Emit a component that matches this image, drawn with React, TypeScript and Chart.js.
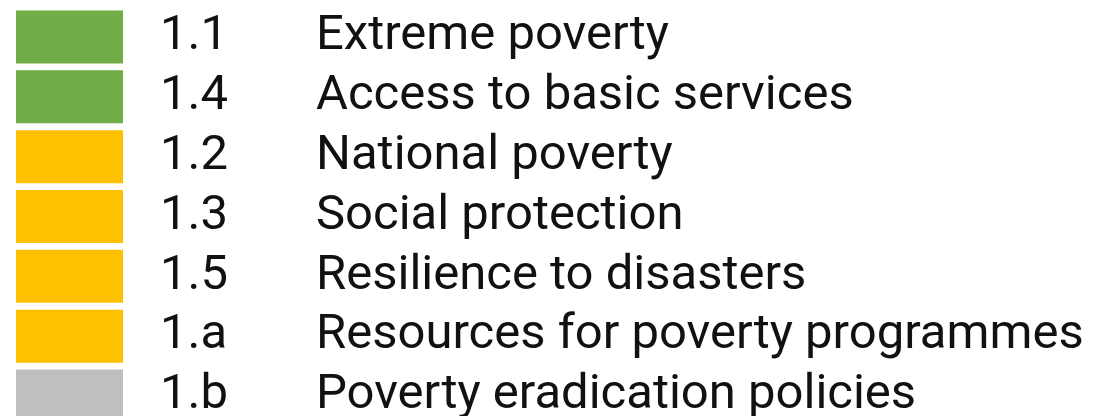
import React, { useEffect, useRef } from "react";
import { Chart, registerables } from "chart.js";

Chart.register(...registerables);

const codes = ["1.1", "1.4", "1.2", "1.3", "1.5", "1.a", "1.b"];
const names = [
  "Extreme poverty",
  "Access to basic services",
  "National poverty",
  "Social protection",
  "Resilience to disasters",
  "Resources for poverty programmes",
  "Poverty eradication policies",
];
const statusValues = [1, 1, 1, 1, 1, 1, 1];
const statusColors = ["#70AD47", "#70AD47", "#FFC000", "#FFC000", "#FFC000", "#FFC000", "#BFBFBF"];

const FONT = { family: "Roboto", size: 49 };
const TEXT_COLOR = "#111111";

export default function App() {
  const ref = useRef<HTMLCanvasElement | null>(null);

  useEffect(() => {
    document.body.style.margin = "0";
    const canvas = ref.current;
    if (!canvas) return;
    const chart = new Chart(canvas, {
      type: "bar",
      data: {
        labels: codes,
        datasets: [
          {
            data: statusValues,
            backgroundColor: statusColors,
            borderWidth: 0,
            categoryPercentage: 1,
            barPercentage: 0.885,
            yAxisID: "y",
            xAxisID: "x",
          },
        ],
      },
      options: {
        indexAxis: "y",
        responsive: false,
        animation: false,
        devicePixelRatio: 1,
        layout: { padding: { left: 16, top: 7, right: 0, bottom: 0 } },
        plugins: { legend: { display: false }, tooltip: { enabled: false } },
        scales: {
          x: { display: false, min: 0, max: 1 },
          y: {
            type: "category",
            position: "right",
            weight: 0,
            offset: true,
            grid: { display: false, drawTicks: false },
            border: { display: false },
            ticks: { padding: 37, crossAlign: "near", color: TEXT_COLOR, font: FONT, autoSkip: false },
            afterFit: (scale: any) => {
              scale.width = 193;
              scale.paddingTop = 0;
              scale.paddingBottom = 0;
            },
          },
          y2: {
            type: "category",
            position: "right",
            weight: 1,
            offset: true,
            labels: names,
            grid: { display: false, drawTicks: false },
            border: { display: false },
            ticks: { padding: 0, crossAlign: "near", color: TEXT_COLOR, font: FONT, autoSkip: false },
            afterFit: (scale: any) => {
              scale.width = 778;
              scale.paddingTop = 0;
              scale.paddingBottom = 0;
            },
          },
        },
      },
    });
    return () => chart.destroy();
  }, []);

  return (
    <div style={{ position: "relative", width: 1094, height: 416, overflow: "hidden", background: "#ffffff" }}>
      <canvas ref={ref} width={1094} height={426} style={{ display: "block" }} />
    </div>
  );
}
